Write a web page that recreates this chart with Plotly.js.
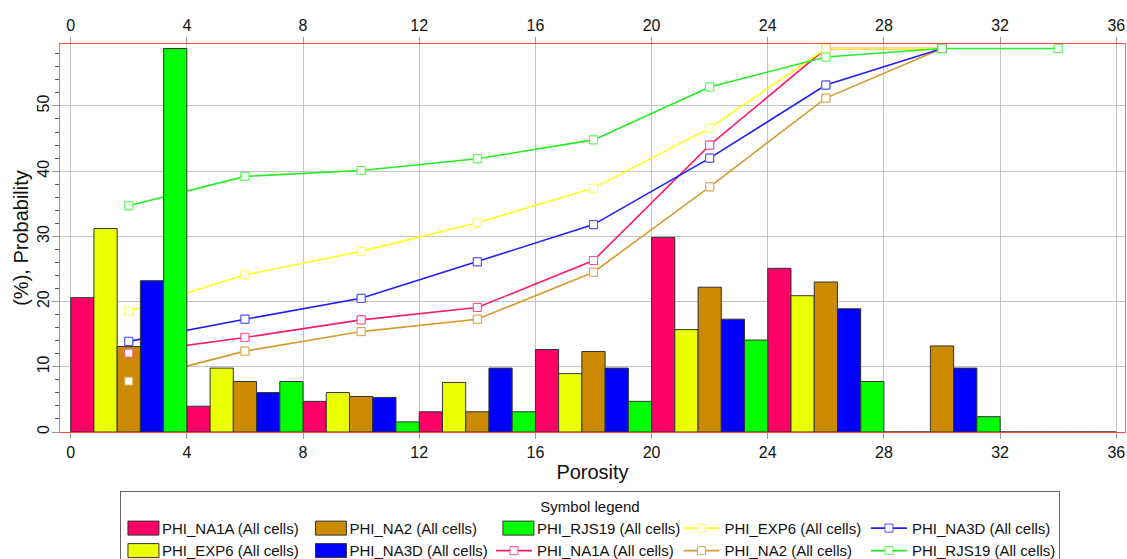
<!DOCTYPE html>
<html>
<head>
<meta charset="utf-8">
<script src="https://cdn.plot.ly/plotly-3.0.1.min.js"></script>
<style>html,body{margin:0;padding:0;background:#fff;}#chart{width:1127px;height:559px;}</style>
</head>
<body>
<div id="chart"></div>
<script>
// Histogram bins (porosity, bin centres) and percentages per well
const binCenters = [2, 6, 10, 14, 18, 22, 26, 30, 34];
const barNA1A  = [20.6, 3.95, 4.7, 3.1, 12.65, 29.85, 25.1, 0, 0];
const barEXP6  = [31.2, 9.8, 6.05, 7.6, 8.95, 15.7, 20.9, 0, 0];
const barNA2   = [13.1, 7.75, 5.45, 3.1, 12.35, 22.2, 23.0, 13.2, 0];
const barNA3D  = [23.2, 6.05, 5.3, 9.8, 9.8, 17.3, 18.9, 9.8, 0];
const barRJS19 = [58.8, 7.75, 1.55, 3.1, 4.7, 14.1, 7.75, 2.35, 0];

// Cumulative probability curves (plotted at bin centres)
const cumX      = [2, 6, 10, 14, 18, 22, 26, 30];
const cumXRJS19 = [2, 6, 10, 14, 18, 22, 26, 30, 34];
const cumNA1A  = [12.1, 14.5, 17.2, 19.1, 26.3, 44.0, 58.8, 58.8];
const cumEXP6  = [18.5, 24.1, 27.7, 32.1, 37.4, 46.6, 58.8, 58.8];
const cumNA2   = [7.8, 12.4, 15.4, 17.3, 24.5, 37.6, 51.2, 58.8];
const cumNA3D  = [13.9, 17.3, 20.5, 26.1, 31.8, 42.0, 53.2, 58.8];
const cumRJS19 = [34.7, 39.2, 40.1, 41.9, 44.8, 52.9, 57.5, 58.8, 58.8];

const xTicks = [0, 4, 8, 12, 16, 20, 24, 28, 32, 36];
const yTicks = [0, 10, 20, 30, 40, 50];

const FONT = '"Liberation Sans", Arial, sans-serif';
const nm = s => s + ' (All cells)';

const barColors = {NA1A:'#FF0066', EXP6:'#EAFF00', NA2:'#CC8A00', NA3D:'#0000FF', RJS19:'#00FF00'};
const lineColors = {NA1A:'#FF1A6E', EXP6:'#FFFF1A', NA2:'#D49A30', NA3D:'#1E1EFF', RJS19:'#22EE22'};
const mkColors = {NA1A:'#FF4F8F', EXP6:'#FFFF55', NA2:'#DCA850', NA3D:'#5050FF', RJS19:'#55FF55'};

function bar(key, y, rank) {
  return {type:'bar', x: binCenters, y: y, name: nm('PHI_' + key), xaxis:'x2', yaxis:'y',
    marker:{color: barColors[key], line:{color:'#333', width:1}}, legendrank: rank, hoverinfo:'x+y+name'};
}
function cumLine(key, xs, y, rank) {
  return {type:'scatter', mode:'lines+markers', x: xs, y: y, name: nm('PHI_' + key), xaxis:'x', yaxis:'y',
    line:{color: lineColors[key], width:1.6},
    marker:{symbol:'square', size:8, color:'#fff', line:{color: mkColors[key], width:1}},
    legendrank: rank};
}
function cumMarkers(key, xs, y) {
  return {type:'scatter', mode:'markers', x: xs, y: y, name: nm('PHI_' + key), xaxis:'x2', yaxis:'y',
    marker:{symbol:'square', size:8, color:'#fff', line:{color: mkColors[key], width:1}},
    showlegend:false, hoverinfo:'skip'};
}

const data = [
  cumLine('NA1A', cumX, cumNA1A, 8),
  cumLine('EXP6', cumX, cumEXP6, 4),
  cumLine('NA2', cumX, cumNA2, 9),
  cumLine('NA3D', cumX, cumNA3D, 5),
  cumLine('RJS19', cumXRJS19, cumRJS19, 10),
  bar('NA1A', barNA1A, 1),
  bar('EXP6', barEXP6, 6),
  bar('NA2', barNA2, 2),
  bar('NA3D', barNA3D, 7),
  bar('RJS19', barRJS19, 3),
  cumMarkers('NA1A', cumX, cumNA1A),
  cumMarkers('EXP6', cumX, cumEXP6),
  cumMarkers('NA2', cumX, cumNA2),
  cumMarkers('NA3D', cumX, cumNA3D),
  cumMarkers('RJS19', cumXRJS19, cumRJS19)
];

const xr = [-0.368, 36.30];
const axisCommon = {
  range: xr, tickmode:'array', tickvals: xTicks, ticktext: xTicks.map(String),
  ticks:'outside', ticklen:6, tickcolor:'#9a9a9a', showline:true, linecolor:'#FF4A4A', linewidth:1,
  zeroline:false, tickfont:{family:FONT, size:16, color:'#111'}
};

const layout = {
  width:1127, height:559,
  margin:{l:60, r:2, t:44, b:127, autoexpand:false},
  paper_bgcolor:'#fff', plot_bgcolor:'#fff',
  font:{family:FONT, color:'#111'},
  barmode:'group', bargap:0, bargroupgap:0,
  showlegend:true,
  xaxis: Object.assign({}, axisCommon, {
    showgrid:true, gridcolor:'#c4c4c4', gridwidth:1,
    title:{text:'Porosity', font:{family:FONT, size:20, color:'#111'}, standoff:4}
  }),
  xaxis2: Object.assign({}, axisCommon, {
    overlaying:'x', side:'top', anchor:'y', showgrid:false
  }),
  yaxis: {
    range:[0, 59.5], tickmode:'array', tickvals: yTicks, ticktext: yTicks.map(String),
    tickangle:-90, ticks:'outside', ticklen:7, tickcolor:'#9a9a9a', ticklabelstandoff:-3,
    minor:{tickmode:'linear', tick0:0, dtick:2, ticks:'outside', ticklen:4, tickcolor:'#555', showgrid:false},
    showgrid:true, gridcolor:'#c4c4c4', gridwidth:1,
    showline:true, linecolor:'#FF6A6A', linewidth:1, mirror:true, zeroline:false,
    tickfont:{family:FONT, size:16, color:'#111'},
    title:{text:'(%), Probability', font:{family:FONT, size:20, color:'#111'}, standoff:0}
  },
  legend:{
    orientation:'h', xref:'paper', yref:'paper', x:0.0563, xanchor:'left', y:-0.153, yanchor:'top',
    bgcolor:'#fff', bordercolor:'#666', borderwidth:1,
    font:{family:FONT, size:15, color:'#111'},
    title:{text:'Symbol legend', side:'top center', font:{family:FONT, size:15, color:'#111'}},
    entrywidth:141.5, entrywidthmode:'pixels', traceorder:'normal', itemwidth:36, indentation:-5
  }
};

function widenBarKeys(gd) {
  // widen the bar swatches in the legend to match the reference's rectangular keys
  gd.querySelectorAll('.legend .traces').forEach(function(g) {
    const d = g.__data__;
    const tr = d && d[0] && d[0].trace;
    if (tr && tr.type === 'bar') {
      g.querySelectorAll('.legendpoints path').forEach(function(p) {
        p.setAttribute('d', 'M-11,-7H20V7H-11Z');
      });
    }
  });
}

Plotly.newPlot('chart', data, layout, {displayModeBar:false, staticPlot:true}).then(function(gd) {
  widenBarKeys(gd);
  gd.on('plotly_afterplot', function() { widenBarKeys(gd); });
  setTimeout(function() { widenBarKeys(gd); }, 50);
});
</script>
</body>
</html>
